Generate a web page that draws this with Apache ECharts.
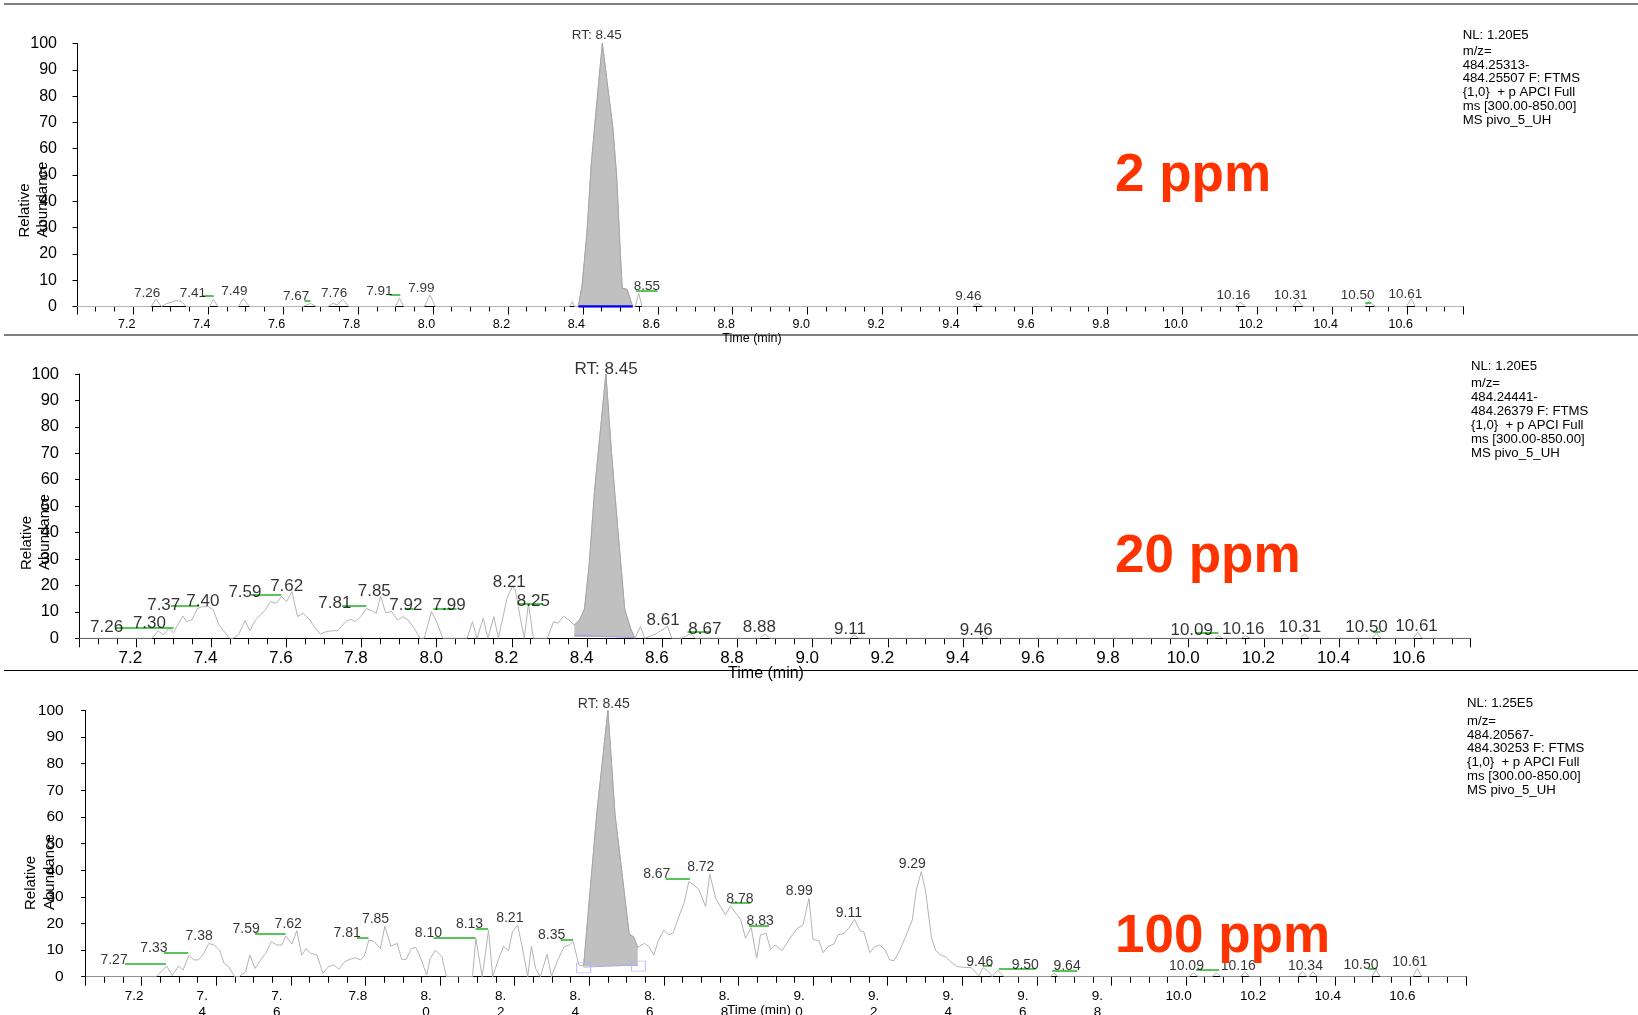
<!DOCTYPE html>
<html>
<head>
<meta charset="utf-8">
<title>pivo_5_UH XIC</title>
<script src="https://cdn.jsdelivr.net/npm/echarts@6/dist/echarts.min.js"></script>
<style>
  html, body { margin: 0; padding: 0; background: #fff; }
  #chart { width: 1638px; height: 1015px; }
</style>
</head>
<body>
<div id="chart"></div>
<script>
var FONT = '"Liberation Sans", Arial, sans-serif';

// x range of all three traces (min)
var tMin = 7.05;
var tMax = 10.75;

// ---- 2 ppm ----
var trace1 = [[7.05,0],[7.248,0],[7.261,2.8],[7.275,0],[7.288,1],[7.315,2.3],[7.328,2],[7.341,0],[7.404,0],[7.414,2.8],[7.426,0],
  [7.481,0],[7.494,3.1],[7.51,0],[7.653,0],[7.673,1.2],[7.688,0],[7.72,0],[7.733,1.2],[7.744,0.6],[7.76,2.7],[7.775,0],
  [7.9,0],[7.911,3.1],[7.922,0],[7.977,0],[7.992,4.4],[8.006,0],[8.365,0],[8.372,1.8],[8.378,0],[8.388,0],
  [8.533,0],[8.54,0],[8.549,5],[8.558,0],[9.441,0],[9.452,1.2],[9.468,0],[10.142,0],[10.154,1.6],[10.169,0],
  [10.295,0],[10.307,2.5],[10.322,0],[10.488,0],[10.499,2],[10.514,0],[10.598,0],[10.611,3],[10.621,0],[10.75,0]];
var peak1 = [[8.388,0],[8.398,8],[8.411,28],[8.423,55],[8.437,77],[8.452,100],[8.465,85],[8.48,68],[8.49,50],[8.5,20],[8.505,7],[8.518,6.5],[8.533,0]];
var base1 = [[8.388,0],[8.533,0]];
var green1 = [[7.386,7.415,4],[7.657,7.673,2.2],[7.884,7.913,4.4],[8.542,8.599,5.9],[10.488,10.504,1.5]];
var labels1 = [['7.26',7.237,5.2],['7.41',7.359,5.2],['7.49',7.470,5.6],['7.67',7.635,3.7],['7.76',7.736,5.2],['7.91',7.857,5.6],
  ['7.99',7.969,6.9],['RT: 8.45',8.437,103],['8.55',8.571,7.5],['9.46',9.429,4],['10.16',10.136,4.1],['10.31',10.289,4.3],
  ['10.50',10.468,4.3],['10.61',10.595,4.8]];
var info1 = ['484.25313-', '484.25507 F: FTMS'];

// ---- 20 ppm ----
var trace2 = [[7.05,0],[7.243,0],[7.259,2.8],[7.273,1.3],[7.288,3.8],[7.300,2.1],[7.311,5],[7.325,8.4],[7.335,6.3],[7.349,7],
  [7.364,11.3],[7.378,12],[7.392,12],[7.406,10.7],[7.421,5],[7.435,2.5],[7.449,0],[7.459,0],[7.473,1.3],[7.490,6.7],[7.503,2.9],
  [7.518,6.9],[7.544,10.7],[7.558,13.9],[7.573,13.2],[7.587,15.8],[7.601,13.9],[7.615,17.7],[7.630,8.2],[7.644,9.5],[7.663,6.9],
  [7.677,3.8],[7.690,1.6],[7.706,2.5],[7.720,2.8],[7.737,2.9],[7.758,6.3],[7.772,7.2],[7.784,6.3],[7.798,8.2],[7.813,11.3],
  [7.826,10.5],[7.839,9.5],[7.851,16],[7.864,9.7],[7.880,10.1],[7.896,6.9],[7.910,8.2],[7.924,6.9],[7.943,3.2],[7.955,0],
  [7.967,0],[7.986,10.1],[8.000,6.3],[8.016,0],[8.081,0],[8.095,6.3],[8.107,0],[8.124,7.6],[8.136,0],[8.152,8.2],[8.164,0],
  [8.187,15.1],[8.202,19.8],[8.209,18.3],[8.223,7.2],[8.233,0],[8.244,13.2],[8.257,0],[8.294,0],[8.311,6.3],[8.323,5.7],
  [8.337,8.4],[8.352,6.9],[8.366,5],[8.527,0],[8.542,4.4],[8.553,0],[8.583,1.7],[8.614,4.5],[8.625,0],[8.652,0],[8.675,1.7],
  [8.688,0],[8.86,0],[8.873,1.7],[8.886,0],[9.10,0],[9.11,1.3],[9.122,0],[9.445,0],[9.455,1],[9.467,0],[10.07,0],[10.08,1],
  [10.092,0],[10.14,0],[10.151,1],[10.163,0],[10.297,0],[10.308,1.7],[10.32,0],[10.488,0],[10.499,2],[10.511,0],[10.598,0],
  [10.609,2.3],[10.621,0],[10.75,0]];
var peak2 = [[8.366,5],[8.38,7],[8.393,11],[8.405,27],[8.42,56],[8.435,78],[8.45,100],[8.465,70],[8.48,44],[8.5,11],[8.515,4],[8.527,0]];
var base2 = [[8.366,1.2],[8.527,0.2]];
var green2 = [[7.145,7.300,4],[7.293,7.368,12.5],[7.506,7.587,16.6],[7.748,7.813,12.5],[7.915,7.939,11.1],[7.991,8.053,11.1],
  [8.219,8.281,12.9],[8.667,8.728,2.3],[10.018,10.079,2.2],[10.49,10.51,2.4]];
var labels2 = [['7.26',7.122,4.1],['7.30',7.236,5.7],['7.37',7.274,12.4],['7.40',7.378,13.9],['7.59',7.490,17.3],['7.62',7.601,19.5],
  ['7.81',7.729,13.2],['7.85',7.834,17.7],['7.92',7.918,12.4],['7.99',8.033,12.4],['8.21',8.193,21.2],['8.25',8.257,13.9],
  ['RT: 8.45',8.4505,101.9],['8.61',8.602,6.9],['8.67',8.713,3.4],['8.88',8.858,4],['9.11',9.099,3.4],['9.46',9.435,3.2],
  ['10.09',10.008,3.2],['10.16',10.145,3.4],['10.31',10.296,4],['10.50',10.473,4],['10.61',10.606,4.5]];
var info2 = ['484.24441-', '484.26379 F: FTMS'];

// ---- 100 ppm ----
var trace3 = [[7.05,0],[7.239,0],[7.267,4],[7.282,0.5],[7.299,4],[7.311,2.5],[7.327,8.1],[7.339,6.3],[7.351,6.3],[7.364,8.1],
  [7.380,12.5],[7.394,11.9],[7.409,10],[7.421,5],[7.433,3.8],[7.449,0],[7.461,0],[7.479,1.9],[7.490,8.1],[7.504,3.1],[7.519,6.3],
  [7.533,8.8],[7.548,13.2],[7.562,11.9],[7.576,11.9],[7.586,15.3],[7.603,12.3],[7.616,17.3],[7.629,8.1],[7.641,10.6],[7.653,8.8],
  [7.670,8.1],[7.686,1.3],[7.701,3.8],[7.715,4.4],[7.729,2.9],[7.744,5.6],[7.758,6.5],[7.773,7.1],[7.787,6.3],[7.798,8.1],
  [7.809,13.8],[7.823,13.2],[7.840,10.6],[7.852,19],[7.868,11.5],[7.885,12.5],[7.897,6.5],[7.909,6.5],[7.923,10.6],[7.935,11],
  [7.950,6.3],[7.964,0.6],[7.974,6.9],[7.988,10],[8.005,7.5],[8.017,0],[8.087,0],[8.096,14.4],[8.113,0],[8.130,17.5],[8.141,0],
  [8.156,6.3],[8.170,11.3],[8.184,9.8],[8.194,16.9],[8.208,19.4],[8.220,11.3],[8.235,0],[8.245,11.5],[8.256,3.1],[8.269,0],
  [8.287,8.5],[8.299,0],[8.316,6.5],[8.333,11.3],[8.347,11.9],[8.357,13.2],[8.372,4.4],[8.385,4],
  [8.530,11],[8.548,12.5],[8.560,11.3],[8.573,8.1],[8.584,13.1],[8.600,17.5],[8.613,15.7],[8.625,16.5],[8.640,22.5],[8.654,27.5],
  [8.667,35.7],[8.681,34.4],[8.694,32.8],[8.712,26.3],[8.723,38.6],[8.739,29.4],[8.752,26.3],[8.765,23.2],[8.779,26.6],[8.792,24],
  [8.806,21.5],[8.819,14.4],[8.834,18.5],[8.849,6.9],[8.859,15.7],[8.874,16.3],[8.886,10.3],[8.898,11.9],[8.917,9.8],[8.935,13.8],
  [8.958,18.2],[8.973,19.4],[8.989,29.4],[9.000,14],[9.016,13.5],[9.027,9],[9.040,11.3],[9.056,12.3],[9.067,15.7],[9.083,16.3],
  [9.096,18.2],[9.111,21.5],[9.126,17.2],[9.136,16.9],[9.152,9],[9.165,11.3],[9.179,11.9],[9.192,10.3],[9.206,6.3],[9.217,6],
  [9.233,10],[9.248,15],[9.266,21.3],[9.277,32.6],[9.290,39.5],[9.302,31.9],[9.317,15],[9.328,10],[9.342,8.1],[9.355,7.5],
  [9.369,5.6],[9.386,3.8],[9.404,3.5],[9.424,3.4],[9.445,0.3],[9.456,3.4],[9.471,1.9],[9.480,0],[9.495,2.5],[9.512,0],[9.637,0],
  [9.646,1.3],[9.657,0],[10.008,0],[10.02,1.5],[10.032,0],[10.07,0],[10.081,1.5],[10.093,0],[10.146,0],[10.158,1.9],[10.17,0],
  [10.3,0],[10.312,1.9],[10.324,0],[10.33,0],[10.34,1.9],[10.352,0],[10.497,0],[10.509,2.5],[10.521,0],[10.608,0],[10.62,3.1],
  [10.632,0],[10.75,0]];
var peak3 = [[8.385,4],[8.42,61],[8.45,100],[8.469,61],[8.507,16],[8.519,15],[8.53,11]];
var base3 = [[8.385,3.6],[8.53,4.4]];
var squares3 = [[8.385,3.3],[8.532,4.0]];
var green3 = [[7.155,7.265,5],[7.260,7.325,9.1],[7.504,7.586,16.3],[7.777,7.808,14.8],[7.983,8.095,14.8],[8.095,8.129,18.2],
  [8.323,8.357,14],[8.605,8.670,36.9],[8.779,8.832,27.6],[8.828,8.882,19],[9.456,9.480,4.1],[9.498,9.597,3.1],[9.641,9.708,2.3],
  [10.027,10.089,2.5],[10.489,10.512,3.1]];
var labels3 = [['7.27',7.126,6.3],['7.33',7.233,10.7],['7.38',7.354,15.3],['7.59',7.480,17.8],['7.62',7.593,19.7],['7.81',7.751,16.3],
  ['7.85',7.827,21.6],['8.10',7.969,16.3],['8.13',8.079,19.7],['8.21',8.187,21.9],['8.35',8.299,15.7],['RT: 8.45',8.439,102.3],
  ['8.67',8.581,38.6],['8.72',8.699,41.1],['8.78',8.804,29.1],['8.83',8.858,20.9],['8.99',8.963,32.3],['9.11',9.096,23.8],
  ['9.29',9.266,42.2],['9.46',9.447,5.6],['9.50',9.569,4.4],['9.64',9.681,4],['10.09',10.001,3.8],['10.16',10.14,4.1],
  ['10.34',10.32,4.1],['10.50',10.469,4.4],['10.61',10.6,5.3]];
var info3 = ['484.20567-', '484.30253 F: FTMS'];
// the bottom trace prints its time ticks broken over two lines
var tickLabels3 = ['7.2','7.\n4','7.\n6','7.8','8.\n0','8.\n2','8.\n4','8.\n6','8.\n8','9.\n0','9.\n2','9.\n4','9.\n6','9.\n8',
  '10.0','10.2','10.4','10.6'];

var panels = [
  {left: 77, top: 43.5, width: 1386.4, height: 263, xFont: 12.5, yFont: 16, pkFont: 13.5, shift: 6.5, xMargin: 12, yMargin: 20, ticks: [5, 8],
    trace: trace1, peak: peak1, origin: 0, base: base1, baseStyle: {color: '#0000ff', width: 2.5}, green: green1, labels: labels1,
    ppm: '2 ppm', ppmY: 176.5, nl: 'NL: 1.20E5', info: info1, infoX: 1462.7, nlY: 35.5, infoY: 51,
    time: [752, 338.5, 12.5], yTitle: [15.2, 237.5, 18.7]},
  {left: 79.5, top: 374, width: 1391.2, height: 264.3, xFont: 17, yFont: 16.5, pkFont: 17, shift: 5.5, xMargin: 12, yMargin: 20.5, ticks: [6, 9],
    trace: trace2, peak: peak2, origin: 0.5, base: base2, baseStyle: {color: '#9a9aee', width: 1}, green: green2, labels: labels2,
    ppm: '20 ppm', ppmY: 557.5, nl: 'NL: 1.20E5', info: info2, infoX: 1471, nlY: 366.7, infoY: 383.4,
    time: [766, 674, 16], yTitle: [17.9, 570, 17.8]},
  {left: 85.7, top: 710.5, width: 1380.1, height: 266.2, xFont: 13.5, yFont: 15.5, pkFont: 14, shift: 0, xMargin: 12, yMargin: 22, ticks: [6, 9],
    trace: trace3, peak: peak3, origin: 4, base: base3, baseStyle: {color: '#a8a8f0', width: 1}, green: green3, labels: labels3,
    ppm: '100 ppm', ppmY: 937, nl: 'NL: 1.25E5', info: info3, infoX: 1467, nlY: 703.5, infoY: 721,
    time: [759, 1010, 13.5], yTitle: [21.8, 910, 19], tickLabels: tickLabels3}
];

function isMajor(v) {
  return Math.abs(v * 5 - Math.round(v * 5)) < 1e-6 && v > tMin + 0.01 && v < tMax - 0.01;
}

function withPeak(trace, peak) {
  var a = peak[0][0], b = peak[peak.length - 1][0];
  return trace.filter(function (p) { return p[0] < a; })
    .concat(peak, trace.filter(function (p) { return p[0] > b; }));
}

var grids = [], xAxes = [], yAxes = [], series = [], graphics = [];

panels.forEach(function (p, i) {
  grids.push({left: p.left, top: p.top, width: p.width, height: p.height, outerBoundsMode: 'none', containLabel: false});

  // small ticks every 0.05 min, drawn with the axis line
  xAxes.push({
    type: 'value', gridIndex: i, position: 'bottom', min: tMin, max: tMax, interval: 0.05,
    axisLine: {show: true, onZero: false, lineStyle: {color: '#000', width: 1}},
    axisTick: {show: true, length: p.ticks[0], lineStyle: {color: '#000', width: 1}},
    axisLabel: {show: false}, splitLine: {show: false}
  });

  // long ticks and labels every 0.2 min
  var labelAxis = {
    type: 'value', gridIndex: i, position: 'bottom', min: tMin, max: tMax, minInterval: 0.2, maxInterval: 0.2, splitNumber: 18,
    axisLine: {show: false},
    axisTick: {show: true, length: p.ticks[1], lineStyle: {color: '#000', width: 1}},
    splitLine: {show: false},
    axisLabel: {
      show: true, color: '#000', fontFamily: FONT, fontSize: p.xFont, margin: p.xMargin,
      padding: [0, p.shift * 2, 0, 0],
      formatter: function (v) { return isMajor(v) ? v.toFixed(1) : ''; }
    }
  };
  if (p.tickLabels) {
    labelAxis.axisLabel.formatter = function (v) {
      if (!isMajor(v)) return '';
      var s = p.tickLabels[Math.round((v - 7.2) / 0.2)] || '';
      if (s.indexOf('\n') >= 0) {
        return s.split('\n').map(function (t) { return '{b|' + t + '}'; }).join('\n');
      }
      return '{a|' + s + '}';
    };
    labelAxis.axisLabel.rich = {
      a: {fontFamily: FONT, fontSize: p.xFont, color: '#000', lineHeight: 16, padding: [0, 15, 0, 0]},
      b: {fontFamily: FONT, fontSize: p.xFont, color: '#000', lineHeight: 16, padding: [0, 28, 0, 0]}
    };
  }
  xAxes.push(labelAxis);

  yAxes.push({
    type: 'value', gridIndex: i, min: 0, max: 100, interval: 10,
    axisLine: {show: true, lineStyle: {color: '#000', width: 1}},
    axisTick: {show: true, length: 4.5, lineStyle: {color: '#000', width: 1}},
    axisLabel: {show: true, color: '#000', fontFamily: FONT, fontSize: p.yFont, margin: p.yMargin},
    splitLine: {show: false}
  });

  var xi = i * 2;
  series.push({
    type: 'line', xAxisIndex: xi, yAxisIndex: i, data: withPeak(p.trace, p.peak),
    symbol: 'none', lineStyle: {color: '#b4b4b4', width: 1}, z: 2, silent: true
  });
  series.push({
    type: 'line', xAxisIndex: xi, yAxisIndex: i, data: p.peak,
    symbol: 'none', lineStyle: {color: '#a6a6a6', width: 1},
    areaStyle: {color: '#c0c0c0', opacity: 1, origin: p.origin}, z: 3, silent: true
  });
  series.push({
    type: 'line', xAxisIndex: xi, yAxisIndex: i, data: p.base,
    symbol: 'none', lineStyle: p.baseStyle, z: 4, silent: true
  });
  series.push({
    type: 'lines', coordinateSystem: 'cartesian2d', xAxisIndex: xi, yAxisIndex: i, silent: true, z: 5,
    lineStyle: {color: '#22b022', width: 1.5, opacity: 1},
    data: p.green.map(function (g) { return {coords: [[g[0], g[2]], [g[1], g[2]]]}; })
  });
  series.push({
    type: 'scatter', xAxisIndex: xi, yAxisIndex: i, clip: false, silent: true, z: 6,
    symbolSize: 1, itemStyle: {color: 'rgba(0,0,0,0)'},
    label: {show: true, position: 'inside', formatter: '{b}', color: '#000', fontFamily: FONT, fontSize: p.pkFont},
    data: p.labels.map(function (l) { return {name: l[0], value: [l[1], l[2]]}; })
  });
  if (i === 2) {
    series.push({
      type: 'scatter', xAxisIndex: xi, yAxisIndex: i, clip: false, silent: true, z: 6,
      symbol: 'rect', symbolSize: [14, 10],
      itemStyle: {color: 'rgba(0,0,0,0)', borderColor: '#b4b4f4', borderWidth: 1},
      data: squares3
    });
  }

  graphics.push({type: 'text', x: 1115, y: p.ppmY, z: 10,
    style: {text: p.ppm, font: 'bold 53px ' + FONT, fill: '#ff3300', align: 'left', verticalAlign: 'middle'}});
  graphics.push({type: 'text', x: p.infoX, y: p.nlY,
    style: {text: p.nl, font: '13.2px ' + FONT, fill: '#000', align: 'left', verticalAlign: 'middle'}});
  graphics.push({type: 'text', x: p.infoX, y: p.infoY - 6.95,
    style: {text: ['m/z='].concat(p.info, ['{1,0}  + p APCI Full', 'ms [300.00-850.00]', 'MS pivo_5_UH']).join('\n'),
      font: '13.2px ' + FONT, fill: '#000', align: 'left', verticalAlign: 'top', lineHeight: 13.9}});
  graphics.push({type: 'text', x: p.time[0], y: p.time[1],
    style: {text: 'Time (min)', font: p.time[2] + 'px ' + FONT, fill: '#000', align: 'center', verticalAlign: 'middle'}});
  graphics.push({type: 'text', x: p.yTitle[0], y: p.yTitle[1], rotation: Math.PI / 2,
    style: {text: 'Relative\nAbundance', font: '15px ' + FONT, fill: '#000', align: 'left', verticalAlign: 'top', lineHeight: p.yTitle[2]}});
});

[4, 335, 670.5].forEach(function (y) {
  graphics.push({type: 'line', z: 20, shape: {x1: 4, y1: y, x2: 1638, y2: y}, style: {stroke: '#000', lineWidth: 1.2}});
});

var chart = echarts.init(document.getElementById('chart'), null, {renderer: 'canvas', width: 1638, height: 1015});
chart.setOption({
  animation: false,
  backgroundColor: '#ffffff',
  textStyle: {fontFamily: FONT},
  grid: grids,
  xAxis: xAxes,
  yAxis: yAxes,
  series: series,
  graphic: graphics
});
</script>
</body>
</html>
